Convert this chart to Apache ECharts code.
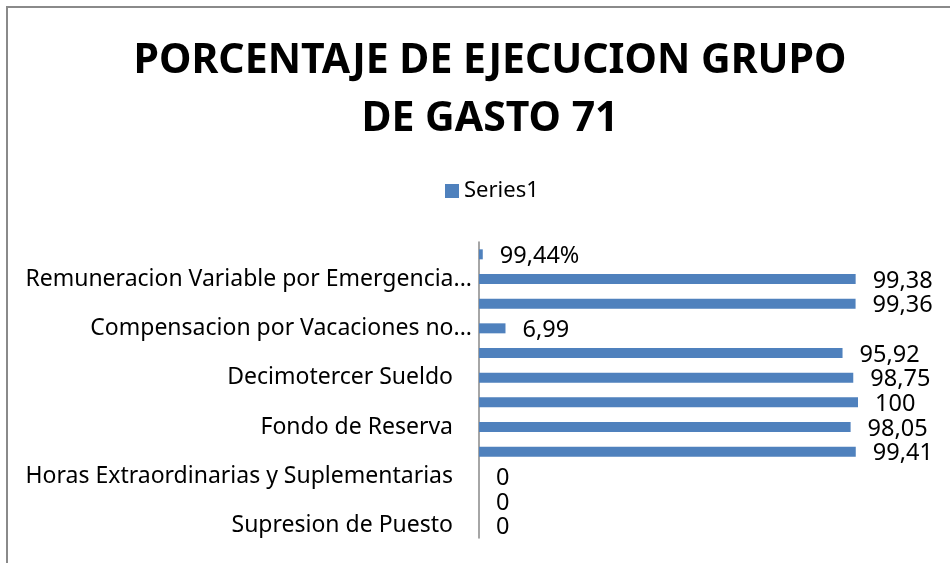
<!DOCTYPE html>
<html>
<head>
<meta charset="utf-8">
<script src="https://cdn.jsdelivr.net/npm/echarts@6/dist/echarts.min.js"></script>
<style>html,body{margin:0;padding:0;background:#fff;}#c{width:950px;height:563px;}</style>
</head>
<body>
<div id="c"></div>
<script>
// bottom to top
const categories = ['Supresion de Puesto', '', 'Horas Extraordinarias y Suplementarias', '', 'Fondo de Reserva', '', 'Decimotercer Sueldo', '', 'Compensacion por Vacaciones no...', '', 'Remuneracion Variable por Emergencia...', ''];
const values = [0, 0, 0, 99.41, 98.05, 100, 98.75, 95.92, 6.99, 99.36, 99.38, 0.9944];
const labelTexts = ['0', '0', '0', '99,41', '98,05', '100', '98,75', '95,92', '6,99', '99,36', '99,38', '99,44%'];
const seriesName = 'Series1';
const titleText = 'PORCENTAJE DE EJECUCION GRUPO\nDE GASTO 71';

const labelFont = { fontFamily: 'Noto Sans', fontSize: 23, color: '#000' };
const chart = echarts.init(document.getElementById('c'));
chart.setOption({
  animation: false,
  backgroundColor: '#fff',
  title: {
    text: titleText,
    left: 485,
    textAlign: 'center',
    top: 27,
    textStyle: { fontFamily: 'Noto Sans', fontWeight: 'bold', fontSize: 41, lineHeight: 58, color: '#000' }
  },
  legend: {
    data: [seriesName],
    top: 175,
    left: 440,
    icon: 'rect',
    itemWidth: 14,
    itemHeight: 14,
    itemGap: 5,
    textStyle: { fontFamily: 'Noto Sans', fontSize: 22, color: '#000' }
  },
  graphic: [{
    type: 'rect',
    shape: { x: 7, y: 7, width: 960, height: 580 },
    style: { fill: 'none', stroke: '#8a8a8a', lineWidth: 2 },
    silent: true
  }],
  grid: { left: 479, right: 92, top: 242, bottom: 25 },
  xAxis: { type: 'value', min: 0, max: 100, show: false },
  yAxis: {
    type: 'category',
    data: categories,
    axisLine: { lineStyle: { color: '#888', width: 1.5 } },
    axisTick: { show: false },
    axisLabel: {
      interval: 0,
      margin: 7,
      ...labelFont,
      formatter: v => v.endsWith('...') ? '{t|' + v + '}' : '{n|' + v + '}',
      rich: {
        t: { ...labelFont },
        n: { ...labelFont, padding: [0, 19, 0, 0] }
      }
    }
  },
  series: [{
    name: seriesName,
    type: 'bar',
    data: values,
    barWidth: 10,
    itemStyle: { color: '#4F81BD' },
    label: {
      show: true,
      position: 'right',
      distance: 17,
      offset: [0, 2],
      fontFamily: 'Noto Sans',
      fontSize: 23.5,
      color: '#000',
      formatter: p => labelTexts[p.dataIndex]
    }
  }]
});
</script>
</body>
</html>
